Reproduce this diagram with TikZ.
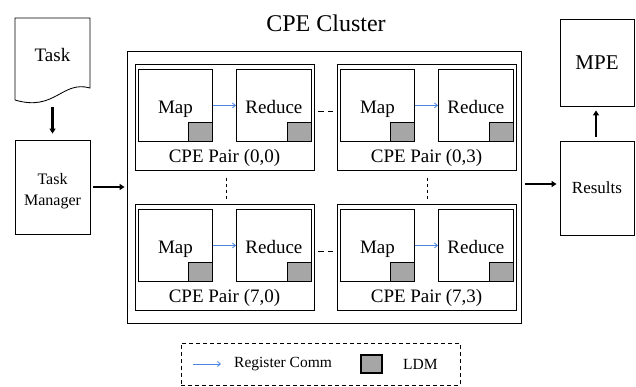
\documentclass[tikz,border=0pt]{standalone}
\usepackage{fontspec}
\setmainfont{Liberation Serif}
\usetikzlibrary{arrows.meta}
\definecolor{commblue}{RGB}{74,134,224}
\definecolor{ldmgray}{RGB}{166,166,166}
\tikzset{
  box/.style={draw, line width=0.85pt, inner sep=0pt, align=center},
  pairbox/.style={draw, line width=0.85pt, inner sep=0pt},
  cellbox/.style={draw, line width=0.85pt, inner sep=0pt, text height=17pt, text depth=0.4pt, font=\fontsize{19}{21}\selectfont},
  ldm/.style={draw, line width=1pt, fill=ldmgray, inner sep=0pt, minimum width=24pt, minimum height=19pt},
  bigarrow/.style={line width=2.2pt, -{Triangle[length=5pt,width=6pt]}},
  comm/.style={commblue, line width=0.8pt, -{Straight Barb[length=3pt,width=5pt]}},
  hdash/.style={line width=1pt, dash pattern=on 5.5pt off 4pt, shorten <=3.5pt, shorten >=3pt},
  vdash/.style={line width=1pt, dash pattern=on 3.5pt off 2.5pt},
  cpepair/.pic={
    \node[pairbox, anchor=north west, minimum width=179pt, minimum height=106pt] (-outer) at (0,0) {};
    \node[cellbox, anchor=north west, minimum width=74pt, minimum height=72pt] (-map) at (3,-5) {Map};
    \node[cellbox, anchor=north west, minimum width=75pt, minimum height=72pt] (-red) at (101,-5) {Reduce};
    \node[ldm, anchor=south east] (-ldmA) at (-map.south east) {};
    \node[ldm, anchor=south east] (-ldmB) at (-red.south east) {};
    \node[font=\fontsize{19}{21}\selectfont] (-lab) at (89.5,-94) {CPE Pair #1};
    \draw[comm] (-map) -- (-red);
  }
}
\begin{document}
\begin{tikzpicture}[x=1pt,y=1pt]
\useasboundingbox (0,0) rectangle (636,-387);
% Task document
\draw[line width=0.85pt] (15,-100) -- (15,-18) -- (90,-18) -- (90,-88)
  .. controls (62,-80) and (55,-112) .. (15,-100);
\node[minimum width=75pt, minimum height=86pt, inner sep=0pt] (task) at (52.5,-61) {};
\node[font=\fontsize{19}{21}\selectfont] (tasklab) at (52.5,-55) {Task};
% Task manager
\node[box, minimum width=75pt, minimum height=94pt] (mgr) at (52.5,-187) {};
\node[align=center, font=\fontsize{16}{21}\selectfont] (mgrlab) at (52.5,-191) {Task\\Manager};
\draw[bigarrow, shorten <=3pt, shorten >=6pt] (task.south) -- (mgr.north);
% Cluster
\node[box, minimum width=394pt, minimum height=272pt] (cluster) at (324,-187) {};
\node[font=\fontsize{24}{26}\selectfont] (title) at (326,-23) {CPE Cluster};
\draw[bigarrow, shorten <=3pt, shorten >=2pt] (mgr.east) -- (cluster.west);
% Pairs
\pic (p00) at (135,-64) {cpepair={(0,0)}};
\pic (p03) at (337,-64) {cpepair={(0,3)}};
\pic (p70) at (135,-204) {cpepair={(7,0)}};
\pic (p73) at (337,-204) {cpepair={(7,3)}};
\draw[hdash] ([yshift=6pt]p00-outer.east) -- ([yshift=6pt]p03-outer.west);
\draw[hdash] ([yshift=6pt]p70-outer.east) -- ([yshift=6pt]p73-outer.west);
\draw[vdash, shorten <=7pt, shorten >=4pt] ([xshift=2pt]p00-outer.south) -- ([xshift=2pt]p70-outer.north);
\draw[vdash, shorten <=7pt, shorten >=4pt] ([xshift=1pt]p03-outer.south) -- ([xshift=1pt]p73-outer.north);
% Results and MPE
\node[box, minimum width=74pt, minimum height=94pt, font=\fontsize{17}{20}\selectfont] (results) at (597,-188) {Results};
\node[box, minimum width=74pt, minimum height=87pt, font=\fontsize{21}{23}\selectfont] (mpe) at (597,-62.5) {MPE};
\draw[bigarrow, shorten <=4pt, shorten >=3pt] ([yshift=3pt]cluster.east) -- ([yshift=3pt]cluster.east -| results.west);
\draw[bigarrow, shorten <=4pt, shorten >=4pt] ([xshift=-1pt]results.north) -- ([xshift=-1pt]mpe.south);
% Legend
\node[draw, line width=0.9pt, dash pattern=on 4pt off 3pt, minimum width=279pt, minimum height=42pt, inner sep=0pt] (legend) at (320.5,-364) {};
\coordinate (la1) at (193,-364);
\coordinate (la2) at (221,-364);
\draw[comm] (la1) -- (la2);
\node[anchor=west, inner sep=0pt, font=\fontsize{15.5}{18}\selectfont] (legcomm) at (234,-364) {Register Comm};
\node[ldm, line width=1.4pt, minimum width=21pt, minimum height=18pt] (legldm) at (371.5,-364) {};
\node[anchor=west, inner sep=0pt, font=\fontsize{15.5}{18}\selectfont] (legldmlab) at (403,-364) {LDM};
\end{tikzpicture}
\end{document}
